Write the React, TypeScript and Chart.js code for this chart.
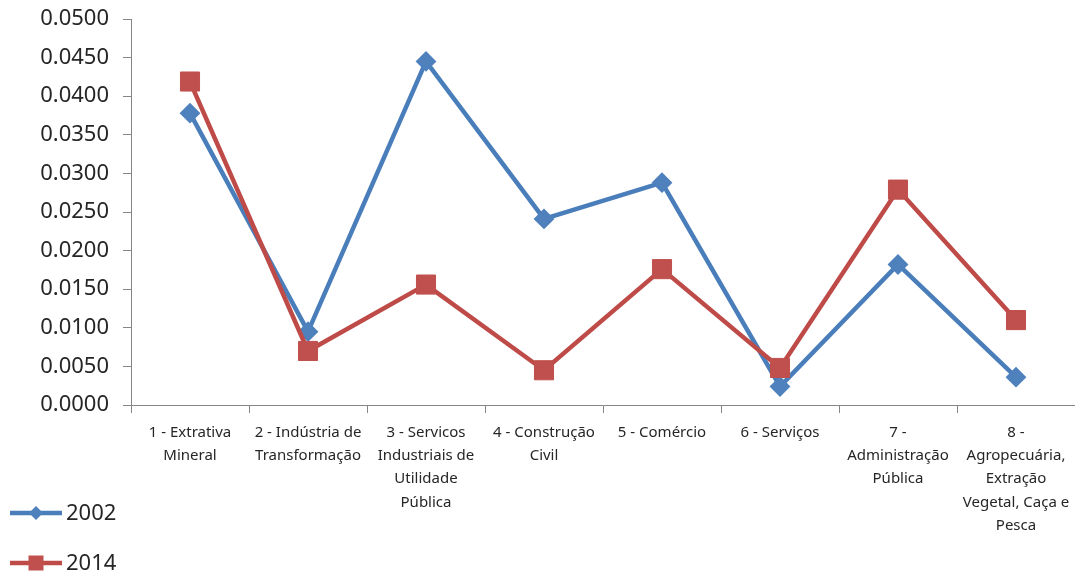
import { useEffect, useRef } from 'react';
import { Chart, registerables } from 'chart.js';

Chart.register(...registerables);

// Sector labels, one line per array entry
const categories: string[][] = [
  ['1 - Extrativa', 'Mineral'],
  ['2 - Indústria de', 'Transformação'],
  ['3 - Servicos', 'Industriais de', 'Utilidade', 'Pública'],
  ['4 - Construção', 'Civil'],
  ['5 - Comércio'],
  ['6 - Serviços'],
  ['7 -', 'Administração', 'Pública'],
  ['8 -', 'Agropecuária,', 'Extração', 'Vegetal, Caça e', 'Pesca'],
];

const values2002 = [0.0378, 0.0095, 0.0445, 0.0241, 0.0288, 0.0024, 0.0182, 0.0036];
const values2014 = [0.0419, 0.0070, 0.0156, 0.0045, 0.0176, 0.0048, 0.0279, 0.0110];

const yMin = 0;
const yMax = 0.05;
const yStep = 0.005;

const FONT = '"Noto Sans", "Open Sans", sans-serif';
const TEXT = '#262626';
const AXIS = '#868686';

const BLUE_LINE = '#4A7EBB';
const BLUE_FILL = '#4F81BD';
const RED_LINE = '#BE4B48';
const RED_FILL = '#C0504D';

// Vertical legend drawn in the lower-left corner, under the value axis labels
const sideLegend = {
  id: 'sideLegend',
  afterDraw(chart: any) {
    const ctx: CanvasRenderingContext2D = chart.ctx;
    const base = chart.chartArea.bottom + 108;
    chart.data.datasets.forEach((ds: any, i: number) => {
      const y = base + i * 50;
      ctx.save();
      ctx.strokeStyle = ds.borderColor;
      ctx.lineWidth = 4.5;
      ctx.beginPath();
      ctx.moveTo(10, y);
      ctx.lineTo(62, y);
      ctx.stroke();
      ctx.fillStyle = ds.pointBackgroundColor;
      const cx = 36;
      if (ds.pointStyle === 'rectRot') {
        const r = 7;
        ctx.beginPath();
        ctx.moveTo(cx - r, y);
        ctx.lineTo(cx, y - r);
        ctx.lineTo(cx + r, y);
        ctx.lineTo(cx, y + r);
        ctx.closePath();
        ctx.fill();
      } else {
        const s = 15;
        ctx.fillRect(cx - s / 2, y - s / 2, s, s);
      }
      ctx.fillStyle = TEXT;
      ctx.font = `22px ${FONT}`;
      ctx.textBaseline = 'middle';
      ctx.textAlign = 'left';
      ctx.fillText(ds.label, 66, y + 1);
      ctx.restore();
    });
  },
};

export default function App() {
  const canvasRef = useRef<HTMLCanvasElement | null>(null);

  useEffect(() => {
    const canvas = canvasRef.current;
    if (!canvas) return;
    const chart = new Chart(canvas, {
      type: 'line',
      data: {
        labels: categories,
        datasets: [
          {
            label: '2002',
            data: values2002,
            borderColor: BLUE_LINE,
            backgroundColor: BLUE_FILL,
            pointBackgroundColor: BLUE_FILL,
            pointBorderColor: BLUE_FILL,
            pointStyle: 'rectRot',
            pointRadius: 9,
            pointBorderWidth: 2,
            borderWidth: 4.5,
            tension: 0,
            order: 2,
          },
          {
            label: '2014',
            data: values2014,
            borderColor: RED_LINE,
            backgroundColor: RED_FILL,
            pointBackgroundColor: RED_FILL,
            pointBorderColor: RED_FILL,
            pointStyle: 'rect',
            pointRadius: 13.5,
            pointBorderWidth: 1,
            borderWidth: 4.5,
            tension: 0,
            order: 1,
          },
        ],
      },
      options: {
        animation: false,
        responsive: true,
        maintainAspectRatio: false,
        layout: { autoPadding: false, padding: { top: 19, right: 0, bottom: 0, left: 0 } },
        plugins: {
          legend: { display: false },
          tooltip: { enabled: false },
        },
        scales: {
          x: {
            type: 'category',
            offset: true,
            afterFit: (scale: any) => {
              scale.height = 168;
              scale.paddingLeft = 0;
              scale.paddingRight = 0;
            },
            grid: {
              display: true,
              offset: true,
              drawOnChartArea: false,
              drawTicks: true,
              tickLength: 8,
              color: AXIS,
            },
            border: { display: true, color: AXIS, width: 1 },
            ticks: {
              autoSkip: false,
              maxRotation: 0,
              minRotation: 0,
              padding: 8,
              color: TEXT,
              font: { family: FONT, size: 15, lineHeight: 1.55 },
            },
          },
          y: {
            type: 'linear',
            min: yMin,
            max: yMax,
            afterFit: (scale: any) => {
              scale.width = 131;
              scale.paddingTop = 0;
              scale.paddingBottom = 0;
            },
            grid: {
              display: true,
              drawOnChartArea: false,
              drawTicks: true,
              tickLength: 8,
              color: AXIS,
            },
            border: { display: true, color: AXIS, width: 1 },
            ticks: {
              stepSize: yStep,
              autoSkip: false,
              padding: 14,
              color: TEXT,
              font: { family: FONT, size: 22 },
              callback: (v: any) => Number(v).toFixed(4),
            },
          },
        },
      },
      plugins: [sideLegend],
    });
    return () => chart.destroy();
  }, []);

  return (
    <div style={{ position: 'fixed', left: 0, top: 0, width: 1075, height: 573, background: '#fff' }}>
      <canvas ref={canvasRef} />
    </div>
  );
}
